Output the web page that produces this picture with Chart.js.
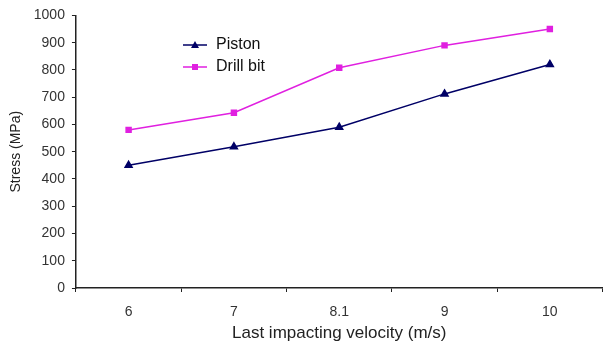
<!DOCTYPE html>
<html>
<head>
<meta charset="utf-8">
<script src="https://cdn.jsdelivr.net/npm/chart.js@4"></script>
<style>
  html, body { margin: 0; padding: 0; background: #fff; }
  #wrap { width: 608px; height: 345px; }
</style>
</head>
<body>
<div id="wrap"><canvas id="chart"></canvas></div>
<script>
const velocities = ['6', '7', '8.1', '9', '10'];
const pistonStress = [450, 518, 590, 712, 820];
const drillBitStress = [580, 643, 808, 890, 950];
const yTicks = [0, 100, 200, 300, 400, 500, 600, 700, 800, 900, 1000];

const FONT = '"Liberation Sans", Arial, sans-serif';

// legend drawn inside the plot, like the original
const innerLegend = {
  id: 'innerLegend',
  afterDraw(chart) {
    const ctx = chart.ctx;
    const x0 = 183, y0 = 45, gap = 22;
    chart.data.datasets.forEach((ds, i) => {
      const y = y0 + i * gap;
      ctx.save();
      ctx.strokeStyle = ds.borderColor;
      ctx.lineWidth = 1.5;
      ctx.beginPath();
      ctx.moveTo(x0, y);
      ctx.lineTo(x0 + 24, y);
      ctx.stroke();
      ctx.fillStyle = ds.borderColor;
      if (ds.pointStyle === 'triangle') {
        ctx.beginPath();
        ctx.moveTo(x0 + 12, y - 4);
        ctx.lineTo(x0 + 16, y + 3);
        ctx.lineTo(x0 + 8, y + 3);
        ctx.closePath();
        ctx.fill();
      } else {
        ctx.fillRect(x0 + 9, y - 3, 6, 6);
      }
      ctx.fillStyle = '#111';
      ctx.font = '16px ' + FONT;
      ctx.textBaseline = 'middle';
      ctx.fillText(ds.label, x0 + 33, y);
      ctx.restore();
    });
  }
};

new Chart(document.getElementById('chart'), {
  type: 'line',
  data: {
    labels: velocities,
    datasets: [
      {
        label: 'Piston',
        data: pistonStress,
        borderColor: '#000066',
        backgroundColor: '#000066',
        borderWidth: 1.5,
        pointStyle: 'triangle',
        pointRadius: 4,
        tension: 0
      },
      {
        label: 'Drill bit',
        data: drillBitStress,
        borderColor: '#e020e0',
        backgroundColor: '#e020e0',
        borderWidth: 1.5,
        pointStyle: 'rect',
        pointRadius: 3.5,
        tension: 0
      }
    ]
  },
  options: {
    responsive: true,
    maintainAspectRatio: false,
    animation: false,
    layout: { padding: { top: 8, right: 0, bottom: 0, left: 8 } },
    plugins: {
      legend: { display: false },
      tooltip: { enabled: false }
    },
    scales: {
      x: {
        offset: true,
        afterFit(scale) {
          scale.height = 57;
          scale.paddingLeft = 0;
          scale.paddingRight = 0;
        },
        grid: { display: true, drawOnChartArea: false, offset: true, color: '#222', tickLength: 4 },
        border: { color: '#222', width: 1.5 },
        ticks: { color: '#333', font: { size: 14, family: FONT }, padding: 12 },
        title: {
          display: true,
          text: 'Last impacting velocity (m/s)',
          color: '#222',
          font: { size: 17, family: FONT, lineHeight: 1.0 },
          padding: { top: 0, bottom: 3 }
        }
      },
      y: {
        min: 0,
        max: 1000,
        afterBuildTicks(axis) { axis.ticks = yTicks.map(v => ({ value: v })); },
        grid: { display: true, drawOnChartArea: false, color: '#222', tickLength: 4 },
        border: { color: '#222', width: 1.5 },
        ticks: { color: '#333', font: { size: 14, family: FONT }, padding: 7, callback: v => String(v) },
        title: {
          display: true,
          text: 'Stress (MPa)',
          color: '#222',
          font: { size: 14, family: FONT },
          padding: { top: 0, bottom: 2 }
        }
      }
    }
  },
  plugins: [innerLegend]
});
</script>
</body>
</html>
